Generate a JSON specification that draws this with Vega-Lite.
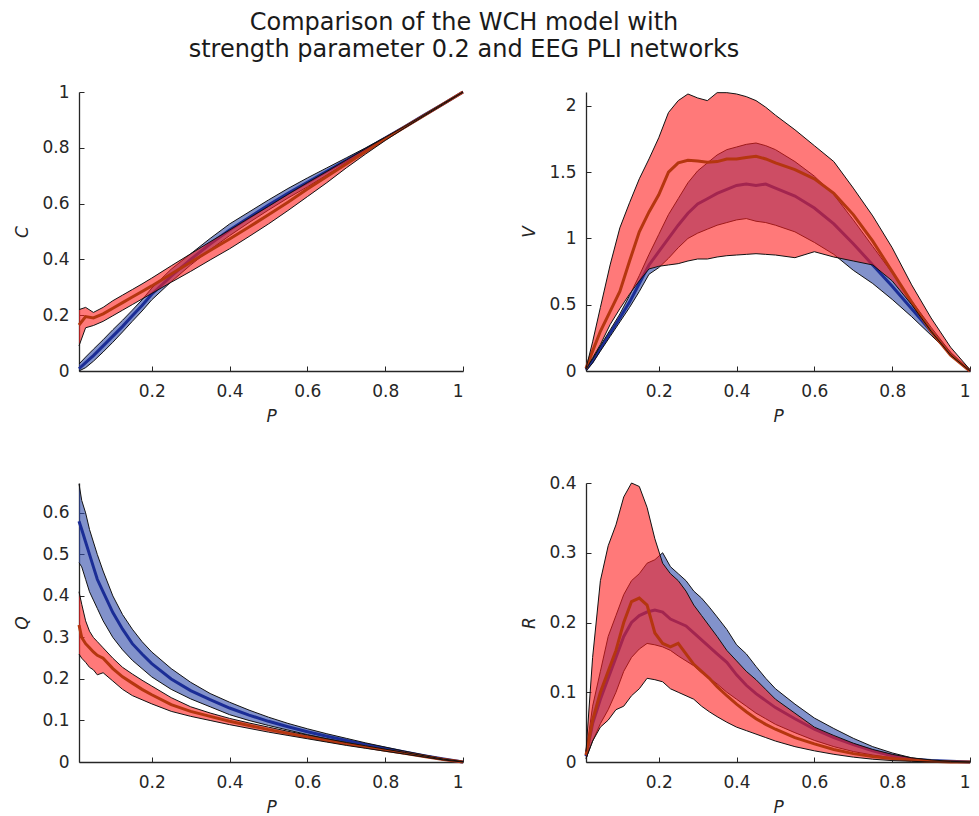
{
"$schema":"https://vega.github.io/schema/vega-lite/v6.json",
"padding":{"left":13,"top":11,"right":5,"bottom":5},
"background":"white",
"title":{"text":["Comparison of the WCH model with","strength parameter 0.2 and EEG PLI networks"],"fontSize":24,"font":"DejaVu Sans","fontWeight":"normal","color":"#1a1a1a","lineHeight":27,"anchor":"middle","dx":-31,"offset":21},
"datasets":{"d":[
{"panel":"C","series":"EEG","P":0.013,"lower":0,"mean":0.008,"upper":0.025},
{"panel":"C","series":"EEG","P":0.03,"lower":0.012,"mean":0.03,"upper":0.05},
{"panel":"C","series":"EEG","P":0.05,"lower":0.035,"mean":0.055,"upper":0.078},
{"panel":"C","series":"EEG","P":0.075,"lower":0.068,"mean":0.09,"upper":0.112},
{"panel":"C","series":"EEG","P":0.1,"lower":0.103,"mean":0.125,"upper":0.148},
{"panel":"C","series":"EEG","P":0.125,"lower":0.14,"mean":0.16,"upper":0.182},
{"panel":"C","series":"EEG","P":0.15,"lower":0.178,"mean":0.198,"upper":0.218},
{"panel":"C","series":"EEG","P":0.175,"lower":0.215,"mean":0.235,"upper":0.255},
{"panel":"C","series":"EEG","P":0.2,"lower":0.255,"mean":0.275,"upper":0.297},
{"panel":"C","series":"EEG","P":0.25,"lower":0.32,"mean":0.34,"upper":0.365},
{"panel":"C","series":"EEG","P":0.3,"lower":0.38,"mean":0.4,"upper":0.42},
{"panel":"C","series":"EEG","P":0.35,"lower":0.435,"mean":0.455,"upper":0.475},
{"panel":"C","series":"EEG","P":0.4,"lower":0.485,"mean":0.505,"upper":0.527},
{"panel":"C","series":"EEG","P":0.45,"lower":0.532,"mean":0.55,"upper":0.57},
{"panel":"C","series":"EEG","P":0.5,"lower":0.577,"mean":0.595,"upper":0.613},
{"panel":"C","series":"EEG","P":0.55,"lower":0.62,"mean":0.637,"upper":0.654},
{"panel":"C","series":"EEG","P":0.6,"lower":0.66,"mean":0.676,"upper":0.692},
{"panel":"C","series":"EEG","P":0.65,"lower":0.703,"mean":0.716,"upper":0.728},
{"panel":"C","series":"EEG","P":0.7,"lower":0.746,"mean":0.755,"upper":0.764},
{"panel":"C","series":"EEG","P":0.75,"lower":0.79,"mean":0.795,"upper":0.8},
{"panel":"C","series":"EEG","P":0.8,"lower":0.832,"mean":0.835,"upper":0.838},
{"panel":"C","series":"EEG","P":0.85,"lower":0.873,"mean":0.875,"upper":0.877},
{"panel":"C","series":"EEG","P":0.9,"lower":0.916,"mean":0.917,"upper":0.918},
{"panel":"C","series":"EEG","P":0.95,"lower":0.957,"mean":0.958,"upper":0.959},
{"panel":"C","series":"EEG","P":1,"lower":1,"mean":1,"upper":1},
{"panel":"C","series":"WCH","P":0.013,"lower":0.09,"mean":0.165,"upper":0.22},
{"panel":"C","series":"WCH","P":0.03,"lower":0.155,"mean":0.195,"upper":0.228},
{"panel":"C","series":"WCH","P":0.05,"lower":0.163,"mean":0.19,"upper":0.21},
{"panel":"C","series":"WCH","P":0.075,"lower":0.178,"mean":0.205,"upper":0.228},
{"panel":"C","series":"WCH","P":0.1,"lower":0.198,"mean":0.225,"upper":0.252},
{"panel":"C","series":"WCH","P":0.125,"lower":0.218,"mean":0.245,"upper":0.272},
{"panel":"C","series":"WCH","P":0.15,"lower":0.238,"mean":0.265,"upper":0.292},
{"panel":"C","series":"WCH","P":0.175,"lower":0.258,"mean":0.285,"upper":0.312},
{"panel":"C","series":"WCH","P":0.2,"lower":0.278,"mean":0.305,"upper":0.333},
{"panel":"C","series":"WCH","P":0.25,"lower":0.318,"mean":0.348,"upper":0.377},
{"panel":"C","series":"WCH","P":0.3,"lower":0.357,"mean":0.39,"upper":0.42},
{"panel":"C","series":"WCH","P":0.35,"lower":0.398,"mean":0.432,"upper":0.463},
{"panel":"C","series":"WCH","P":0.4,"lower":0.438,"mean":0.473,"upper":0.505},
{"panel":"C","series":"WCH","P":0.45,"lower":0.482,"mean":0.516,"upper":0.548},
{"panel":"C","series":"WCH","P":0.5,"lower":0.527,"mean":0.56,"upper":0.59},
{"panel":"C","series":"WCH","P":0.55,"lower":0.575,"mean":0.605,"upper":0.633},
{"panel":"C","series":"WCH","P":0.6,"lower":0.625,"mean":0.652,"upper":0.675},
{"panel":"C","series":"WCH","P":0.65,"lower":0.675,"mean":0.697,"upper":0.715},
{"panel":"C","series":"WCH","P":0.7,"lower":0.728,"mean":0.742,"upper":0.756},
{"panel":"C","series":"WCH","P":0.75,"lower":0.778,"mean":0.787,"upper":0.797},
{"panel":"C","series":"WCH","P":0.8,"lower":0.826,"mean":0.832,"upper":0.837},
{"panel":"C","series":"WCH","P":0.85,"lower":0.871,"mean":0.874,"upper":0.877},
{"panel":"C","series":"WCH","P":0.9,"lower":0.914,"mean":0.916,"upper":0.918},
{"panel":"C","series":"WCH","P":0.95,"lower":0.956,"mean":0.958,"upper":0.96},
{"panel":"C","series":"WCH","P":1,"lower":1,"mean":1,"upper":1},

{"panel":"V","series":"EEG","P":0.013,"lower":0,"mean":0.01,"upper":0.02},
{"panel":"V","series":"EEG","P":0.03,"lower":0.06,"mean":0.075,"upper":0.09},
{"panel":"V","series":"EEG","P":0.05,"lower":0.15,"mean":0.17,"upper":0.19},
{"panel":"V","series":"EEG","P":0.075,"lower":0.26,"mean":0.285,"upper":0.31},
{"panel":"V","series":"EEG","P":0.1,"lower":0.37,"mean":0.4,"upper":0.43},
{"panel":"V","series":"EEG","P":0.125,"lower":0.48,"mean":0.52,"upper":0.57},
{"panel":"V","series":"EEG","P":0.15,"lower":0.6,"mean":0.66,"upper":0.72},
{"panel":"V","series":"EEG","P":0.175,"lower":0.73,"mean":0.8,"upper":0.88},
{"panel":"V","series":"EEG","P":0.2,"lower":0.78,"mean":0.9,"upper":1.03},
{"panel":"V","series":"EEG","P":0.225,"lower":0.85,"mean":1.0,"upper":1.18},
{"panel":"V","series":"EEG","P":0.25,"lower":0.93,"mean":1.1,"upper":1.3},
{"panel":"V","series":"EEG","P":0.275,"lower":1.0,"mean":1.19,"upper":1.42},
{"panel":"V","series":"EEG","P":0.3,"lower":1.04,"mean":1.26,"upper":1.51},
{"panel":"V","series":"EEG","P":0.325,"lower":1.07,"mean":1.3,"upper":1.57},
{"panel":"V","series":"EEG","P":0.35,"lower":1.1,"mean":1.34,"upper":1.63},
{"panel":"V","series":"EEG","P":0.375,"lower":1.12,"mean":1.37,"upper":1.67},
{"panel":"V","series":"EEG","P":0.4,"lower":1.14,"mean":1.4,"upper":1.69},
{"panel":"V","series":"EEG","P":0.425,"lower":1.15,"mean":1.41,"upper":1.71},
{"panel":"V","series":"EEG","P":0.45,"lower":1.13,"mean":1.4,"upper":1.72},
{"panel":"V","series":"EEG","P":0.475,"lower":1.12,"mean":1.41,"upper":1.7},
{"panel":"V","series":"EEG","P":0.5,"lower":1.1,"mean":1.38,"upper":1.67},
{"panel":"V","series":"EEG","P":0.55,"lower":1.05,"mean":1.32,"upper":1.58},
{"panel":"V","series":"EEG","P":0.6,"lower":0.97,"mean":1.23,"upper":1.47},
{"panel":"V","series":"EEG","P":0.65,"lower":0.88,"mean":1.11,"upper":1.33},
{"panel":"V","series":"EEG","P":0.7,"lower":0.76,"mean":0.96,"upper":1.14},
{"panel":"V","series":"EEG","P":0.75,"lower":0.66,"mean":0.8,"upper":0.94},
{"panel":"V","series":"EEG","P":0.8,"lower":0.54,"mean":0.64,"upper":0.74},
{"panel":"V","series":"EEG","P":0.85,"lower":0.41,"mean":0.47,"upper":0.53},
{"panel":"V","series":"EEG","P":0.9,"lower":0.27,"mean":0.3,"upper":0.33},
{"panel":"V","series":"EEG","P":0.95,"lower":0.13,"mean":0.13,"upper":0.14},
{"panel":"V","series":"EEG","P":1,"lower":0,"mean":0,"upper":0},
{"panel":"V","series":"WCH","P":0.013,"lower":0.01,"mean":0.02,"upper":0.02},
{"panel":"V","series":"WCH","P":0.03,"lower":0.1,"mean":0.15,"upper":0.22},
{"panel":"V","series":"WCH","P":0.05,"lower":0.2,"mean":0.3,"upper":0.48},
{"panel":"V","series":"WCH","P":0.075,"lower":0.35,"mean":0.45,"upper":0.8},
{"panel":"V","series":"WCH","P":0.1,"lower":0.47,"mean":0.6,"upper":1.08},
{"panel":"V","series":"WCH","P":0.125,"lower":0.58,"mean":0.83,"upper":1.27},
{"panel":"V","series":"WCH","P":0.15,"lower":0.68,"mean":1.05,"upper":1.45},
{"panel":"V","series":"WCH","P":0.175,"lower":0.77,"mean":1.2,"upper":1.6},
{"panel":"V","series":"WCH","P":0.2,"lower":0.79,"mean":1.33,"upper":1.76},
{"panel":"V","series":"WCH","P":0.225,"lower":0.8,"mean":1.5,"upper":1.95},
{"panel":"V","series":"WCH","P":0.25,"lower":0.81,"mean":1.57,"upper":2.04},
{"panel":"V","series":"WCH","P":0.275,"lower":0.83,"mean":1.59,"upper":2.09},
{"panel":"V","series":"WCH","P":0.3,"lower":0.845,"mean":1.585,"upper":2.06},
{"panel":"V","series":"WCH","P":0.325,"lower":0.845,"mean":1.575,"upper":2.04},
{"panel":"V","series":"WCH","P":0.35,"lower":0.86,"mean":1.58,"upper":2.1},
{"panel":"V","series":"WCH","P":0.375,"lower":0.87,"mean":1.6,"upper":2.1},
{"panel":"V","series":"WCH","P":0.4,"lower":0.875,"mean":1.6,"upper":2.09},
{"panel":"V","series":"WCH","P":0.425,"lower":0.88,"mean":1.61,"upper":2.07},
{"panel":"V","series":"WCH","P":0.45,"lower":0.885,"mean":1.62,"upper":2.04},
{"panel":"V","series":"WCH","P":0.475,"lower":0.88,"mean":1.6,"upper":1.99},
{"panel":"V","series":"WCH","P":0.5,"lower":0.875,"mean":1.57,"upper":1.93},
{"panel":"V","series":"WCH","P":0.55,"lower":0.855,"mean":1.52,"upper":1.82},
{"panel":"V","series":"WCH","P":0.6,"lower":0.9,"mean":1.45,"upper":1.7},
{"panel":"V","series":"WCH","P":0.65,"lower":0.86,"mean":1.34,"upper":1.58},
{"panel":"V","series":"WCH","P":0.7,"lower":0.83,"mean":1.18,"upper":1.38},
{"panel":"V","series":"WCH","P":0.75,"lower":0.8,"mean":0.98,"upper":1.17},
{"panel":"V","series":"WCH","P":0.8,"lower":0.68,"mean":0.75,"upper":0.93},
{"panel":"V","series":"WCH","P":0.85,"lower":0.5,"mean":0.52,"upper":0.65},
{"panel":"V","series":"WCH","P":0.9,"lower":0.3,"mean":0.3,"upper":0.4},
{"panel":"V","series":"WCH","P":0.95,"lower":0.12,"mean":0.12,"upper":0.18},
{"panel":"V","series":"WCH","P":1,"lower":0,"mean":0,"upper":0.01},

{"panel":"Q","series":"EEG","P":0.013,"lower":0.48,"mean":0.58,"upper":0.67},
{"panel":"Q","series":"EEG","P":0.02,"lower":0.47,"mean":0.56,"upper":0.63},
{"panel":"Q","series":"EEG","P":0.03,"lower":0.44,"mean":0.53,"upper":0.6},
{"panel":"Q","series":"EEG","P":0.04,"lower":0.41,"mean":0.5,"upper":0.56},
{"panel":"Q","series":"EEG","P":0.05,"lower":0.39,"mean":0.47,"upper":0.53},
{"panel":"Q","series":"EEG","P":0.06,"lower":0.37,"mean":0.44,"upper":0.5},
{"panel":"Q","series":"EEG","P":0.075,"lower":0.34,"mean":0.41,"upper":0.46},
{"panel":"Q","series":"EEG","P":0.1,"lower":0.3,"mean":0.36,"upper":0.4},
{"panel":"Q","series":"EEG","P":0.125,"lower":0.27,"mean":0.32,"upper":0.355},
{"panel":"Q","series":"EEG","P":0.15,"lower":0.245,"mean":0.285,"upper":0.32},
{"panel":"Q","series":"EEG","P":0.175,"lower":0.225,"mean":0.26,"upper":0.29},
{"panel":"Q","series":"EEG","P":0.2,"lower":0.205,"mean":0.237,"upper":0.265},
{"panel":"Q","series":"EEG","P":0.25,"lower":0.175,"mean":0.2,"upper":0.225},
{"panel":"Q","series":"EEG","P":0.3,"lower":0.152,"mean":0.172,"upper":0.192},
{"panel":"Q","series":"EEG","P":0.35,"lower":0.133,"mean":0.15,"upper":0.165},
{"panel":"Q","series":"EEG","P":0.4,"lower":0.114,"mean":0.13,"upper":0.144},
{"panel":"Q","series":"EEG","P":0.45,"lower":0.1,"mean":0.113,"upper":0.125},
{"panel":"Q","series":"EEG","P":0.5,"lower":0.088,"mean":0.098,"upper":0.108},
{"panel":"Q","series":"EEG","P":0.55,"lower":0.077,"mean":0.085,"upper":0.093},
{"panel":"Q","series":"EEG","P":0.6,"lower":0.066,"mean":0.073,"upper":0.08},
{"panel":"Q","series":"EEG","P":0.65,"lower":0.056,"mean":0.062,"upper":0.068},
{"panel":"Q","series":"EEG","P":0.7,"lower":0.047,"mean":0.052,"upper":0.057},
{"panel":"Q","series":"EEG","P":0.75,"lower":0.038,"mean":0.042,"upper":0.046},
{"panel":"Q","series":"EEG","P":0.8,"lower":0.03,"mean":0.033,"upper":0.036},
{"panel":"Q","series":"EEG","P":0.85,"lower":0.022,"mean":0.024,"upper":0.026},
{"panel":"Q","series":"EEG","P":0.9,"lower":0.014,"mean":0.015,"upper":0.017},
{"panel":"Q","series":"EEG","P":0.95,"lower":0.006,"mean":0.007,"upper":0.008},
{"panel":"Q","series":"EEG","P":1,"lower":0,"mean":0,"upper":0.001},
{"panel":"Q","series":"WCH","P":0.013,"lower":0.26,"mean":0.33,"upper":0.41},
{"panel":"Q","series":"WCH","P":0.02,"lower":0.25,"mean":0.3,"upper":0.38},
{"panel":"Q","series":"WCH","P":0.03,"lower":0.24,"mean":0.285,"upper":0.34},
{"panel":"Q","series":"WCH","P":0.04,"lower":0.228,"mean":0.275,"upper":0.315},
{"panel":"Q","series":"WCH","P":0.05,"lower":0.222,"mean":0.265,"upper":0.3},
{"panel":"Q","series":"WCH","P":0.06,"lower":0.21,"mean":0.257,"upper":0.29},
{"panel":"Q","series":"WCH","P":0.075,"lower":0.215,"mean":0.25,"upper":0.275},
{"panel":"Q","series":"WCH","P":0.1,"lower":0.195,"mean":0.225,"upper":0.25},
{"panel":"Q","series":"WCH","P":0.125,"lower":0.175,"mean":0.205,"upper":0.228},
{"panel":"Q","series":"WCH","P":0.15,"lower":0.16,"mean":0.19,"upper":0.212},
{"panel":"Q","series":"WCH","P":0.175,"lower":0.15,"mean":0.175,"upper":0.197},
{"panel":"Q","series":"WCH","P":0.2,"lower":0.14,"mean":0.162,"upper":0.183},
{"panel":"Q","series":"WCH","P":0.25,"lower":0.122,"mean":0.138,"upper":0.155},
{"panel":"Q","series":"WCH","P":0.3,"lower":0.11,"mean":0.122,"upper":0.133},
{"panel":"Q","series":"WCH","P":0.35,"lower":0.1,"mean":0.11,"upper":0.118},
{"panel":"Q","series":"WCH","P":0.4,"lower":0.09,"mean":0.098,"upper":0.105},
{"panel":"Q","series":"WCH","P":0.45,"lower":0.081,"mean":0.088,"upper":0.094},
{"panel":"Q","series":"WCH","P":0.5,"lower":0.072,"mean":0.078,"upper":0.084},
{"panel":"Q","series":"WCH","P":0.55,"lower":0.064,"mean":0.069,"upper":0.074},
{"panel":"Q","series":"WCH","P":0.6,"lower":0.056,"mean":0.06,"upper":0.065},
{"panel":"Q","series":"WCH","P":0.65,"lower":0.048,"mean":0.052,"upper":0.056},
{"panel":"Q","series":"WCH","P":0.7,"lower":0.04,"mean":0.044,"upper":0.047},
{"panel":"Q","series":"WCH","P":0.75,"lower":0.033,"mean":0.036,"upper":0.039},
{"panel":"Q","series":"WCH","P":0.8,"lower":0.026,"mean":0.028,"upper":0.031},
{"panel":"Q","series":"WCH","P":0.85,"lower":0.019,"mean":0.021,"upper":0.023},
{"panel":"Q","series":"WCH","P":0.9,"lower":0.012,"mean":0.013,"upper":0.015},
{"panel":"Q","series":"WCH","P":0.95,"lower":0.005,"mean":0.006,"upper":0.007},
{"panel":"Q","series":"WCH","P":1,"lower":0,"mean":0,"upper":0.001},

{"panel":"R","series":"EEG","P":0.013,"lower":0.005,"mean":0.008,"upper":0.012},
{"panel":"R","series":"EEG","P":0.03,"lower":0.03,"mean":0.055,"upper":0.08},
{"panel":"R","series":"EEG","P":0.05,"lower":0.055,"mean":0.09,"upper":0.13},
{"panel":"R","series":"EEG","P":0.07,"lower":0.075,"mean":0.12,"upper":0.18},
{"panel":"R","series":"EEG","P":0.09,"lower":0.1,"mean":0.15,"upper":0.21},
{"panel":"R","series":"EEG","P":0.11,"lower":0.13,"mean":0.18,"upper":0.24},
{"panel":"R","series":"EEG","P":0.13,"lower":0.15,"mean":0.2,"upper":0.26},
{"panel":"R","series":"EEG","P":0.15,"lower":0.162,"mean":0.21,"upper":0.27},
{"panel":"R","series":"EEG","P":0.17,"lower":0.17,"mean":0.215,"upper":0.285},
{"panel":"R","series":"EEG","P":0.19,"lower":0.168,"mean":0.218,"upper":0.29},
{"panel":"R","series":"EEG","P":0.21,"lower":0.165,"mean":0.215,"upper":0.3},
{"panel":"R","series":"EEG","P":0.23,"lower":0.16,"mean":0.205,"upper":0.28},
{"panel":"R","series":"EEG","P":0.25,"lower":0.152,"mean":0.2,"upper":0.27},
{"panel":"R","series":"EEG","P":0.27,"lower":0.145,"mean":0.195,"upper":0.26},
{"panel":"R","series":"EEG","P":0.29,"lower":0.138,"mean":0.185,"upper":0.245},
{"panel":"R","series":"EEG","P":0.31,"lower":0.128,"mean":0.175,"upper":0.235},
{"panel":"R","series":"EEG","P":0.33,"lower":0.12,"mean":0.165,"upper":0.222},
{"panel":"R","series":"EEG","P":0.35,"lower":0.112,"mean":0.155,"upper":0.208},
{"panel":"R","series":"EEG","P":0.375,"lower":0.1,"mean":0.143,"upper":0.19},
{"panel":"R","series":"EEG","P":0.4,"lower":0.09,"mean":0.125,"upper":0.168},
{"panel":"R","series":"EEG","P":0.425,"lower":0.08,"mean":0.11,"upper":0.155},
{"panel":"R","series":"EEG","P":0.45,"lower":0.07,"mean":0.098,"upper":0.137},
{"panel":"R","series":"EEG","P":0.475,"lower":0.062,"mean":0.088,"upper":0.12},
{"panel":"R","series":"EEG","P":0.5,"lower":0.054,"mean":0.078,"upper":0.105},
{"panel":"R","series":"EEG","P":0.55,"lower":0.042,"mean":0.062,"upper":0.083},
{"panel":"R","series":"EEG","P":0.6,"lower":0.031,"mean":0.047,"upper":0.063},
{"panel":"R","series":"EEG","P":0.65,"lower":0.022,"mean":0.035,"upper":0.048},
{"panel":"R","series":"EEG","P":0.7,"lower":0.015,"mean":0.025,"upper":0.034},
{"panel":"R","series":"EEG","P":0.75,"lower":0.01,"mean":0.016,"upper":0.022},
{"panel":"R","series":"EEG","P":0.8,"lower":0.006,"mean":0.009,"upper":0.013},
{"panel":"R","series":"EEG","P":0.85,"lower":0.003,"mean":0.004,"upper":0.006},
{"panel":"R","series":"EEG","P":0.9,"lower":0.001,"mean":0.002,"upper":0.002},
{"panel":"R","series":"EEG","P":0.95,"lower":0,"mean":0.001,"upper":0.001},
{"panel":"R","series":"EEG","P":1,"lower":0,"mean":0,"upper":0},
{"panel":"R","series":"WCH","P":0.013,"lower":0.005,"mean":0.01,"upper":0.015},
{"panel":"R","series":"WCH","P":0.03,"lower":0.03,"mean":0.06,"upper":0.15},
{"panel":"R","series":"WCH","P":0.05,"lower":0.05,"mean":0.1,"upper":0.26},
{"panel":"R","series":"WCH","P":0.07,"lower":0.06,"mean":0.13,"upper":0.31},
{"panel":"R","series":"WCH","P":0.09,"lower":0.075,"mean":0.16,"upper":0.34},
{"panel":"R","series":"WCH","P":0.11,"lower":0.08,"mean":0.2,"upper":0.38},
{"panel":"R","series":"WCH","P":0.13,"lower":0.095,"mean":0.23,"upper":0.4},
{"panel":"R","series":"WCH","P":0.15,"lower":0.105,"mean":0.235,"upper":0.395},
{"panel":"R","series":"WCH","P":0.17,"lower":0.12,"mean":0.225,"upper":0.365},
{"panel":"R","series":"WCH","P":0.19,"lower":0.118,"mean":0.185,"upper":0.32},
{"panel":"R","series":"WCH","P":0.21,"lower":0.115,"mean":0.17,"upper":0.285},
{"panel":"R","series":"WCH","P":0.23,"lower":0.105,"mean":0.165,"upper":0.27},
{"panel":"R","series":"WCH","P":0.25,"lower":0.1,"mean":0.17,"upper":0.26},
{"panel":"R","series":"WCH","P":0.27,"lower":0.095,"mean":0.155,"upper":0.245},
{"panel":"R","series":"WCH","P":0.29,"lower":0.09,"mean":0.14,"upper":0.225},
{"panel":"R","series":"WCH","P":0.31,"lower":0.08,"mean":0.13,"upper":0.21},
{"panel":"R","series":"WCH","P":0.33,"lower":0.072,"mean":0.12,"upper":0.195},
{"panel":"R","series":"WCH","P":0.35,"lower":0.065,"mean":0.108,"upper":0.18},
{"panel":"R","series":"WCH","P":0.375,"lower":0.057,"mean":0.095,"upper":0.16},
{"panel":"R","series":"WCH","P":0.4,"lower":0.05,"mean":0.083,"upper":0.145},
{"panel":"R","series":"WCH","P":0.425,"lower":0.045,"mean":0.072,"upper":0.13},
{"panel":"R","series":"WCH","P":0.45,"lower":0.04,"mean":0.062,"upper":0.118},
{"panel":"R","series":"WCH","P":0.475,"lower":0.035,"mean":0.054,"upper":0.104},
{"panel":"R","series":"WCH","P":0.5,"lower":0.03,"mean":0.047,"upper":0.09},
{"panel":"R","series":"WCH","P":0.55,"lower":0.022,"mean":0.035,"upper":0.07},
{"panel":"R","series":"WCH","P":0.6,"lower":0.016,"mean":0.026,"upper":0.05},
{"panel":"R","series":"WCH","P":0.65,"lower":0.011,"mean":0.018,"upper":0.038},
{"panel":"R","series":"WCH","P":0.7,"lower":0.007,"mean":0.012,"upper":0.027},
{"panel":"R","series":"WCH","P":0.75,"lower":0.004,"mean":0.008,"upper":0.018},
{"panel":"R","series":"WCH","P":0.8,"lower":0.002,"mean":0.005,"upper":0.011},
{"panel":"R","series":"WCH","P":0.85,"lower":0.001,"mean":0.003,"upper":0.006},
{"panel":"R","series":"WCH","P":0.9,"lower":0,"mean":0.001,"upper":0.003},
{"panel":"R","series":"WCH","P":0.95,"lower":0,"mean":0,"upper":0.001},
{"panel":"R","series":"WCH","P":1,"lower":0,"mean":0,"upper":0}
]},
"data":{"name":"d"},
"columns":2,
"spacing":{"column":123,"row":112},
"bounds":"flush",
"concat":[
{"width":384,"height":279,"transform":[{"filter":"datum.panel==='C'"}],
 "layer":[
  {"transform":[{"filter":"datum.series==='EEG'"}],"mark":{"type":"area","color":"#2f4aa8","opacity":0.6},
   "encoding":{"x":{"field":"P","type":"quantitative","scale":{"domain":[0.013,1],"nice":false,"zero":false},"axis":{"values":[0.2,0.4,0.6,0.8,1],"format":"~g"},"title":"P"},
   "y":{"field":"lower","type":"quantitative","scale":{"domain":[0,1],"nice":false,"zero":false},"axis":{"values":[0,0.2,0.4,0.6,0.8,1],"format":"~g"},"title":"C"},"y2":{"field":"upper"}}},
  {"transform":[{"filter":"datum.series==='EEG'"}],"mark":{"type":"line","color":"#1b2d96","strokeWidth":3},
   "encoding":{"x":{"field":"P","type":"quantitative","title":"P"},"y":{"field":"mean","type":"quantitative","title":"C"}}},
  {"transform":[{"filter":"datum.series==='EEG'"},{"fold":["lower","upper"],"as":["edge","value"]}],"mark":{"type":"line","color":"#111111","strokeWidth":1},
   "encoding":{"x":{"field":"P","type":"quantitative","title":"P"},"y":{"field":"value","type":"quantitative","title":"C"},"detail":{"field":"edge"}}},
  {"transform":[{"filter":"datum.series==='WCH'"}],"mark":{"type":"area","color":"#ff2020","opacity":0.6},
   "encoding":{"x":{"field":"P","type":"quantitative","title":"P"},"y":{"field":"lower","type":"quantitative","title":"C"},"y2":{"field":"upper"}}},
  {"transform":[{"filter":"datum.series==='WCH'"}],"mark":{"type":"line","color":"#b5360f","strokeWidth":3},
   "encoding":{"x":{"field":"P","type":"quantitative","title":"P"},"y":{"field":"mean","type":"quantitative","title":"C"}}},
  {"transform":[{"filter":"datum.series==='WCH'"},{"fold":["lower","upper"],"as":["edge","value"]}],"mark":{"type":"line","color":"#111111","strokeWidth":1},
   "encoding":{"x":{"field":"P","type":"quantitative","title":"P"},"y":{"field":"value","type":"quantitative","title":"C"},"detail":{"field":"edge"}}}
 ]},
{"width":384,"height":279,"transform":[{"filter":"datum.panel==='V'"}],
 "layer":[
  {"transform":[{"filter":"datum.series==='EEG'"}],"mark":{"type":"area","color":"#2f4aa8","opacity":0.6},
   "encoding":{"x":{"field":"P","type":"quantitative","scale":{"domain":[0.013,1],"nice":false,"zero":false},"axis":{"values":[0.2,0.4,0.6,0.8,1],"format":"~g"},"title":"P"},
   "y":{"field":"lower","type":"quantitative","scale":{"domain":[0,2.105],"nice":false,"zero":false},"axis":{"values":[0,0.5,1,1.5,2],"format":"~g"},"title":"V"},"y2":{"field":"upper"}}},
  {"transform":[{"filter":"datum.series==='EEG'"}],"mark":{"type":"line","color":"#1b2d96","strokeWidth":3},
   "encoding":{"x":{"field":"P","type":"quantitative","title":"P"},"y":{"field":"mean","type":"quantitative","title":"V"}}},
  {"transform":[{"filter":"datum.series==='EEG'"},{"fold":["lower","upper"],"as":["edge","value"]}],"mark":{"type":"line","color":"#111111","strokeWidth":1},
   "encoding":{"x":{"field":"P","type":"quantitative","title":"P"},"y":{"field":"value","type":"quantitative","title":"V"},"detail":{"field":"edge"}}},
  {"transform":[{"filter":"datum.series==='WCH'"}],"mark":{"type":"area","color":"#ff2020","opacity":0.6},
   "encoding":{"x":{"field":"P","type":"quantitative","title":"P"},"y":{"field":"lower","type":"quantitative","title":"V"},"y2":{"field":"upper"}}},
  {"transform":[{"filter":"datum.series==='WCH'"}],"mark":{"type":"line","color":"#b5360f","strokeWidth":3},
   "encoding":{"x":{"field":"P","type":"quantitative","title":"P"},"y":{"field":"mean","type":"quantitative","title":"V"}}},
  {"transform":[{"filter":"datum.series==='WCH'"},{"fold":["lower","upper"],"as":["edge","value"]}],"mark":{"type":"line","color":"#111111","strokeWidth":1},
   "encoding":{"x":{"field":"P","type":"quantitative","title":"P"},"y":{"field":"value","type":"quantitative","title":"V"},"detail":{"field":"edge"}}}
 ]},
{"width":384,"height":279,"transform":[{"filter":"datum.panel==='Q'"}],
 "layer":[
  {"transform":[{"filter":"datum.series==='EEG'"}],"mark":{"type":"area","color":"#2f4aa8","opacity":0.6},
   "encoding":{"x":{"field":"P","type":"quantitative","scale":{"domain":[0.013,1],"nice":false,"zero":false},"axis":{"values":[0.2,0.4,0.6,0.8,1],"format":"~g"},"title":"P"},
   "y":{"field":"lower","type":"quantitative","scale":{"domain":[0,0.672],"nice":false,"zero":false},"axis":{"values":[0,0.1,0.2,0.3,0.4,0.5,0.6],"format":"~g"},"title":"Q"},"y2":{"field":"upper"}}},
  {"transform":[{"filter":"datum.series==='EEG'"}],"mark":{"type":"line","color":"#1b2d96","strokeWidth":3},
   "encoding":{"x":{"field":"P","type":"quantitative","title":"P"},"y":{"field":"mean","type":"quantitative","title":"Q"}}},
  {"transform":[{"filter":"datum.series==='EEG'"},{"fold":["lower","upper"],"as":["edge","value"]}],"mark":{"type":"line","color":"#111111","strokeWidth":1},
   "encoding":{"x":{"field":"P","type":"quantitative","title":"P"},"y":{"field":"value","type":"quantitative","title":"Q"},"detail":{"field":"edge"}}},
  {"transform":[{"filter":"datum.series==='WCH'"}],"mark":{"type":"area","color":"#ff2020","opacity":0.6},
   "encoding":{"x":{"field":"P","type":"quantitative","title":"P"},"y":{"field":"lower","type":"quantitative","title":"Q"},"y2":{"field":"upper"}}},
  {"transform":[{"filter":"datum.series==='WCH'"}],"mark":{"type":"line","color":"#b5360f","strokeWidth":3},
   "encoding":{"x":{"field":"P","type":"quantitative","title":"P"},"y":{"field":"mean","type":"quantitative","title":"Q"}}},
  {"transform":[{"filter":"datum.series==='WCH'"},{"fold":["lower","upper"],"as":["edge","value"]}],"mark":{"type":"line","color":"#111111","strokeWidth":1},
   "encoding":{"x":{"field":"P","type":"quantitative","title":"P"},"y":{"field":"value","type":"quantitative","title":"Q"},"detail":{"field":"edge"}}}
 ]},
{"width":384,"height":279,"transform":[{"filter":"datum.panel==='R'"}],
 "layer":[
  {"transform":[{"filter":"datum.series==='EEG'"}],"mark":{"type":"area","color":"#2f4aa8","opacity":0.6},
   "encoding":{"x":{"field":"P","type":"quantitative","scale":{"domain":[0.013,1],"nice":false,"zero":false},"axis":{"values":[0.2,0.4,0.6,0.8,1],"format":"~g"},"title":"P"},
   "y":{"field":"lower","type":"quantitative","scale":{"domain":[0,0.4],"nice":false,"zero":false},"axis":{"values":[0,0.1,0.2,0.3,0.4],"format":"~g"},"title":"R"},"y2":{"field":"upper"}}},
  {"transform":[{"filter":"datum.series==='EEG'"}],"mark":{"type":"line","color":"#1b2d96","strokeWidth":3},
   "encoding":{"x":{"field":"P","type":"quantitative","title":"P"},"y":{"field":"mean","type":"quantitative","title":"R"}}},
  {"transform":[{"filter":"datum.series==='EEG'"},{"fold":["lower","upper"],"as":["edge","value"]}],"mark":{"type":"line","color":"#111111","strokeWidth":1},
   "encoding":{"x":{"field":"P","type":"quantitative","title":"P"},"y":{"field":"value","type":"quantitative","title":"R"},"detail":{"field":"edge"}}},
  {"transform":[{"filter":"datum.series==='WCH'"}],"mark":{"type":"area","color":"#ff2020","opacity":0.6},
   "encoding":{"x":{"field":"P","type":"quantitative","title":"P"},"y":{"field":"lower","type":"quantitative","title":"R"},"y2":{"field":"upper"}}},
  {"transform":[{"filter":"datum.series==='WCH'"}],"mark":{"type":"line","color":"#b5360f","strokeWidth":3},
   "encoding":{"x":{"field":"P","type":"quantitative","title":"P"},"y":{"field":"mean","type":"quantitative","title":"R"}}},
  {"transform":[{"filter":"datum.series==='WCH'"},{"fold":["lower","upper"],"as":["edge","value"]}],"mark":{"type":"line","color":"#111111","strokeWidth":1},
   "encoding":{"x":{"field":"P","type":"quantitative","title":"P"},"y":{"field":"value","type":"quantitative","title":"R"},"detail":{"field":"edge"}}}
 ]}
],
"config":{
 "view":{"stroke":null},
 "axis":{"grid":false,"domainColor":"#262626","domainWidth":1.3,"tickColor":"#262626","tickSize":-5,"tickWidth":1,
  "labelFont":"DejaVu Sans","labelFontSize":17,"labelColor":"#262626",
  "titleFont":"DejaVu Sans","titleFontSize":17,"titleFontStyle":"italic","titleFontWeight":"normal","titleColor":"#262626"},
 "axisX":{"labelPadding":17,"titlePadding":9},
 "axisY":{"labelPadding":15,"titlePadding":10}
}
}
